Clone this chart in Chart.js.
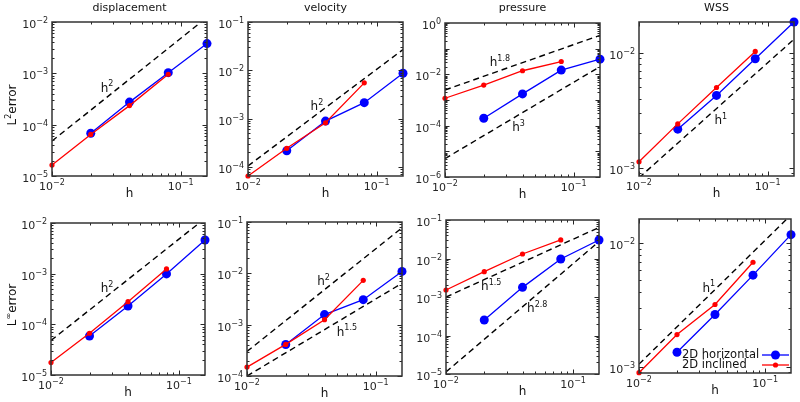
<!DOCTYPE html>
<html>
<head>
<meta charset="utf-8">
<script src="https://cdn.jsdelivr.net/npm/chart.js@4.4.1/dist/chart.umd.min.js"></script>
<style>
  html, body { margin: 0; padding: 0; background: #fff; }
  #wrap { position: relative; width: 800px; height: 402px; }
  #wrap canvas { position: absolute; left: 0; top: 0; }
</style>
</head>
<body>
<div id="wrap"></div>
<script>
// mesh sizes
const hHorizontal = [0.02, 0.04, 0.08, 0.16];
const hInclined = [0.01, 0.02, 0.04, 0.08];
const hRef = [0.01, 0.16];

// L2 error (top row)
const dispL2Horizontal = [6.8e-5, 2.75e-4, 1.03e-3, 3.8e-3];
const dispL2Inclined = [1.63e-5, 6.45e-5, 2.35e-4, 9.6e-4];
const velL2Horizontal = [2.17e-4, 8.9e-4, 2.14e-3, 8.7e-3];
const velL2Inclined = [6.5e-5, 2.43e-4, 8.2e-4, 5.5e-3];
const presL2Horizontal = [1.95e-4, 1.73e-3, 1.46e-2, 3.9e-2];
const presL2Inclined = [1.17e-3, 3.8e-3, 1.38e-2, 3.16e-2];
const wssL2Horizontal = [2.17e-3, 4.26e-3, 8.87e-3, 1.85e-2];
const wssL2Inclined = [1.13e-3, 2.41e-3, 4.99e-3, 1.026e-2];

// Linf error (bottom row)
const dispLinfHorizontal = [5.9e-5, 2.3e-4, 9.9e-4, 4.63e-3];
const dispLinfInclined = [1.76e-5, 6.67e-5, 2.8e-4, 1.24e-3];
const velLinfHorizontal = [4.1e-4, 1.57e-3, 3.07e-3, 1.09e-2];
const velLinfInclined = [1.49e-4, 4.13e-4, 1.25e-3, 7.3e-3];
const presLinfHorizontal = [2.53e-4, 1.78e-3, 9.7e-3, 3.03e-2];
const presLinfInclined = [1.52e-3, 4.55e-3, 1.31e-2, 3.03e-2];
const wssLinfHorizontal = [1.31e-3, 2.64e-3, 5.49e-3, 1.166e-2];
const wssLinfInclined = [8.95e-4, 1.82e-3, 3.18e-3, 6.98e-3];

// reference slope lines, value at h = 0.01 and h = 0.16
const dispL2Ref = [4.8e-5, 1.23e-2];
const velL2Ref = [1.05e-4, 2.69e-2];
const presL2Ref18 = [2.46e-3, 0.33];
const presL2Ref3 = [5.2e-6, 2.0e-2];
const wssL2Ref = [8.2e-4, 1.31e-2];
const dispLinfRef = [4.8e-5, 1.23e-2];
const velLinfRef2 = [3e-4, 7.7e-2];
const velLinfRef15 = [1e-4, 6.4e-3];
const presLinfRef15 = [1e-3, 6.4e-2];
const presLinfRef28 = [1.13e-5, 2.75e-2];
const wssLinfRef = [1.05e-3, 1.68e-2];

const xRange = [0.01, 0.16];
const legendLabels = ['2D horizontal', '2D inclined'];

const FONT = '"DejaVu Sans", sans-serif';
const YW = 44, XH = 22;

const panels = [
  { title: 'displacement', yTitle: '2', area: [52, 22, 207, 176], yRange: [1e-5, 1e-2],
    blue: dispL2Horizontal, red: dispL2Inclined,
    refs: [{ values: dispL2Ref, exp: '2', at: [0.0268, 5.4e-4] }] },
  { title: 'velocity', area: [248, 22, 403, 176], yRange: [6.5e-5, 1e-1],
    blue: velL2Horizontal, red: velL2Inclined,
    refs: [{ values: velL2Ref, exp: '2', at: [0.0343, 1.9e-3] }] },
  { title: 'pressure', area: [445, 23, 600, 177], yRange: [1e-6, 1], yStep: 2,
    blue: presL2Horizontal, red: presL2Inclined,
    refs: [{ values: presL2Ref18, exp: '1.8', at: [0.0267, 0.031] },
           { values: presL2Ref3, exp: '3', at: [0.0373, 9.3e-5] }] },
  { title: 'WSS', area: [639, 22, 794, 176], yRange: [8.5e-4, 1.85e-2],
    blue: wssL2Horizontal, red: wssL2Inclined,
    refs: [{ values: wssL2Ref, exp: '1', at: [0.0432, 2.65e-3] }] },
  { yTitle: '∞', area: [51, 223, 205, 375], yRange: [1e-5, 1e-2],
    blue: dispLinfHorizontal, red: dispLinfInclined,
    refs: [{ values: dispLinfRef, exp: '2', at: [0.0274, 5.4e-4] }] },
  { area: [247, 222, 402, 376], yRange: [1e-4, 1e-1],
    blue: velLinfHorizontal, red: velLinfInclined,
    refs: [{ values: velLinfRef2, exp: '2', at: [0.0393, 7.3e-3] },
           { values: velLinfRef15, exp: '1.5', at: [0.0597, 7.5e-4] }] },
  { area: [446, 220, 599, 374], yRange: [1e-5, 1e-1],
    blue: presLinfHorizontal, red: presLinfInclined,
    refs: [{ values: presLinfRef15, exp: '1.5', at: [0.0227, 1.93e-3] },
           { values: presLinfRef28, exp: '2.8', at: [0.0522, 5.4e-4] }] },
  { area: [639, 219, 791, 373], yRange: [8.9e-4, 1.56e-2], legend: true,
    blue: wssLinfHorizontal, red: wssLinfInclined,
    refs: [{ values: wssLinfRef, exp: '1', at: [0.0357, 4.4e-3] }] }
];

const isPow10 = v => Math.abs(Math.log10(v) - Math.round(Math.log10(v))) < 1e-6;

// text with superscripts; align 'center' or 'right', y is the middle of the base text
function drawRich(ctx, parts, x, y, size, align, supSize, rise) {
  const small = supSize || Math.round(size * 0.66);
  const up = rise || size * 0.42;
  let w = 0;
  parts.forEach(p => {
    ctx.font = (p.sup ? small : size) + 'px ' + FONT;
    p.w = ctx.measureText(p.t).width;
    w += p.w;
  });
  let cx = align === 'right' ? x - w : x - w / 2;
  const base = y + size * 0.37;
  ctx.textAlign = 'left';
  ctx.textBaseline = 'alphabetic';
  parts.forEach(p => {
    ctx.font = (p.sup ? small : size) + 'px ' + FONT;
    ctx.fillText(p.t, cx, p.sup ? base - up : base);
    cx += p.w;
  });
}

function minorValues(min, max) {
  const out = [];
  for (let e = Math.floor(Math.log10(min)); e <= Math.ceil(Math.log10(max)); e++) {
    for (let m = 1; m <= 9; m++) {
      const v = m * Math.pow(10, e);
      if (v >= min * (1 - 1e-9) && v <= max * (1 + 1e-9)) out.push(v);
    }
  }
  return out;
}

const decor = {
  id: 'decor',
  afterDatasetsDraw(chart) {
    const p = chart.options.plugins.decor.panel;
    const ctx = chart.ctx;
    const a = chart.chartArea;
    const xs = chart.scales.x, ys = chart.scales.y;
    ctx.save();
    ctx.strokeStyle = '#262626';
    ctx.lineWidth = 1;
    ctx.beginPath();
    minorValues(xs.min, xs.max).forEach(v => {
      const px = Math.round(xs.getPixelForValue(v)) + 0.5;
      const len = isPow10(v) ? 4.5 : 2.5;
      ctx.moveTo(px, a.bottom); ctx.lineTo(px, a.bottom - len);
      ctx.moveTo(px, a.top); ctx.lineTo(px, a.top + len);
    });
    minorValues(ys.min, ys.max).forEach(v => {
      const py = Math.round(ys.getPixelForValue(v)) + 0.5;
      const len = isPow10(v) ? 4.5 : 2.5;
      ctx.moveTo(a.left, py); ctx.lineTo(a.left + len, py);
      ctx.moveTo(a.right, py); ctx.lineTo(a.right - len, py);
    });
    ctx.stroke();
    ctx.lineWidth = 1.5;
    ctx.strokeStyle = '#333';
    ctx.strokeRect(a.left, a.top, a.right - a.left, a.bottom - a.top);

    // tick labels at the powers of ten from the library's ticks
    ctx.fillStyle = '#262626';
    xs.ticks.forEach(t => {
      if (!isPow10(t.value)) return;
      const e = Math.round(Math.log10(t.value));
      drawRich(ctx, [{ t: '10' }, { t: String(e).replace('-', '\u2212'), sup: true }],
        xs.getPixelForValue(t.value), a.bottom + 10, 11, 'center', 8, 5);
    });
    const step = p.yStep || 1;
    ys.ticks.forEach(t => {
      if (!isPow10(t.value)) return;
      const e = Math.round(Math.log10(t.value));
      if (e % step !== 0) return;
      drawRich(ctx, [{ t: '10' }, { t: String(e).replace('-', '\u2212'), sup: true }],
        a.left - 4, ys.getPixelForValue(t.value) + 2, 11, 'right', 8, 5);
    });

    ctx.fillStyle = '#111';
    // slope labels
    p.refs.forEach(r => {
      drawRich(ctx, [{ t: 'h' }, { t: r.exp, sup: true }],
        xs.getPixelForValue(r.at[0]), ys.getPixelForValue(r.at[1]), 12);
    });
    // x title
    drawRich(ctx, [{ t: 'h' }], (a.left + a.right) / 2, a.bottom + 17, 12);
    // column title
    if (p.title) {
      ctx.font = '11px ' + FONT;
      ctx.textAlign = 'center';
      ctx.textBaseline = 'middle';
      ctx.fillText(p.title, (a.left + a.right) / 2, 8);
    }
    // y title
    if (p.yTitle) {
      ctx.save();
      ctx.translate(12, (a.top + a.bottom) / 2 + 6);
      ctx.rotate(-Math.PI / 2);
      drawRich(ctx, [{ t: 'L' }, { t: p.yTitle, sup: true }, { t: 'error' }], 0, 0, 12);
      ctx.restore();
    }
    // legend
    if (p.legend) {
      const rows = [
        { label: legendLabels[0], color: '#0000ff', r: 4.5, y: a.bottom - 18 },
        { label: legendLabels[1], color: '#ff0000', r: 2.6, y: a.bottom - 8 }
      ];
      rows.forEach(row => {
        ctx.fillStyle = '#111';
        ctx.font = '11.5px ' + FONT;
        ctx.textAlign = 'left';
        ctx.textBaseline = 'middle';
        ctx.fillText(row.label, 682, row.y);
        ctx.strokeStyle = row.color;
        ctx.lineWidth = 1.3;
        ctx.beginPath();
        ctx.moveTo(762, row.y); ctx.lineTo(789, row.y);
        ctx.stroke();
        ctx.fillStyle = row.color;
        ctx.beginPath();
        ctx.arc(775.5, row.y, row.r, 0, Math.PI * 2);
        ctx.fill();
      });
    }
    ctx.restore();
  }
};

const wrap = document.getElementById('wrap');
const pts = (xsArr, ysArr) => xsArr.map((x, i) => ({ x: x, y: ysArr[i] }));

panels.forEach(p => {
  const canvas = document.createElement('canvas');
  canvas.width = 800;
  canvas.height = 402;
  wrap.appendChild(canvas);
  const a = p.area;

  const datasets = [
    { data: pts(hInclined, p.red), borderColor: '#ff0000', backgroundColor: '#ff0000',
      borderWidth: 1.3, pointRadius: 2.6, pointBorderWidth: 0, showLine: true, clip: false, order: 0 },
    { data: pts(hHorizontal, p.blue), borderColor: '#0000ff', backgroundColor: '#0000ff',
      borderWidth: 1.3, pointRadius: 4.5, pointBorderWidth: 0, showLine: true, clip: false, order: 1 }
  ];
  p.refs.forEach(r => {
    datasets.push({ data: pts(hRef, r.values), borderColor: '#000', borderWidth: 1.4,
      borderDash: [6, 4], pointRadius: 0, showLine: true, clip: 0, order: 2 });
  });

  new Chart(canvas, {
    type: 'scatter',
    data: { datasets: datasets },
    options: {
      responsive: false,
      animation: false,
      events: [],
      layout: { padding: { left: a[0] - YW, top: a[1], right: 800 - a[2], bottom: 402 - a[3] - XH } },
      plugins: { legend: { display: false }, tooltip: { enabled: false }, decor: { panel: p } },
      scales: {
        x: {
          type: 'logarithmic', min: xRange[0], max: xRange[1],
          grid: { display: false, drawTicks: false }, border: { display: false },
          ticks: { display: false, autoSkip: false },
          afterFit: s => { s.height = XH; }
        },
        y: {
          type: 'logarithmic', min: p.yRange[0], max: p.yRange[1],
          grid: { display: false, drawTicks: false }, border: { display: false },
          ticks: { display: false, autoSkip: false },
          afterFit: s => { s.width = YW; }
        }
      }
    },
    plugins: [decor]
  });
});
</script>
</body>
</html>
